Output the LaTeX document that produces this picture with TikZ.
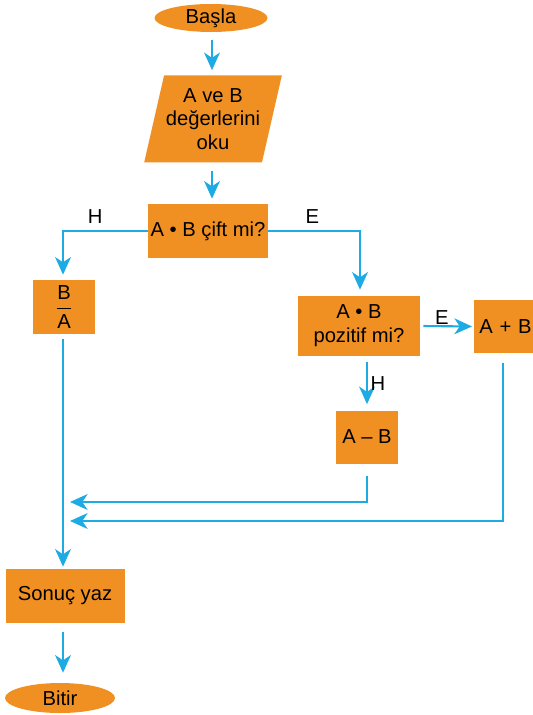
\documentclass[tikz,border=0pt]{standalone}
\usepackage{amsmath}
\usepackage{fontspec}
\setmainfont{Liberation Sans}
\usetikzlibrary{arrows.meta,calc,positioning,shapes.geometric}
\definecolor{akisturuncu}{RGB}{240,144,34}
\definecolor{akismavi}{RGB}{30,170,226}

\begin{document}
\begin{tikzpicture}[>={Stealth[length=10pt,width=9pt,inset=3pt]},
  font=\fontsize{11.5}{13.5}\selectfont,
  kutu/.style={rectangle,fill=akisturuncu,inner sep=1pt,align=center},
  uc/.style={ellipse,fill=akisturuncu,inner sep=0pt},
  ok/.style={->,color=akismavi,line width=1.2pt},
  etiket/.style={text=black,inner sep=1.5pt}]
  \useasboundingbox (0,0) rectangle (10.66,-14.3);
  \node[uc,minimum width=2.26cm,minimum height=0.56cm] (basla) at (4.22,-0.36) {Başla};
  \node[trapezium,trapezium left angle=73,trapezium right angle=107,trapezium stretches=true,
        fill=akisturuncu,minimum width=2.74cm,minimum height=1.74cm,inner sep=1pt,align=center]
        (oku) at (4.26,-2.38) {A ve B\\değerlerini\\oku};
  \node[kutu,minimum width=2.4cm,minimum height=1.08cm] (cift) at (4.16,-4.62) {A • B çift mi?};
  \node[kutu,minimum width=1.24cm,minimum height=1.08cm] (ba) at (1.28,-6.14) {$\dfrac{\text{B}}{\text{A}}$};
  \node[kutu,minimum width=2.44cm,minimum height=1.2cm] (poz) at (7.18,-6.52) {A • B\\pozitif mi?};
  \node[kutu,anchor=west,text width=1.3cm,minimum height=1.06cm,inner xsep=0.1cm,align=left]
        (apb) at (9.48,-6.53) {A + B};
  \node[kutu,minimum width=1.24cm,minimum height=1.06cm] (amb) at (7.34,-8.74) {A – B};
  \node[kutu,minimum width=2.38cm,minimum height=1.08cm] (sonuc) at (1.30,-11.92) {Sonuç yaz};
  \node[uc,minimum width=2.2cm,minimum height=0.6cm] (bitir) at (1.2,-13.96) {Bitir};
  \coordinate (hat) at (1.26,0);
  \coordinate (g1) at (1.40,-10.04);
  \coordinate (g2) at (1.40,-10.42);
  \coordinate (apbalt) at (10.06,-7.24);
  % ana akis
  \draw[ok,shorten <=0.16cm,shorten >=0.1cm] (basla.south -| 4.24,0) -- (oku.north -| 4.24,0);
  \draw[ok,shorten <=0.16cm,shorten >=0.1cm] (oku.south -| 4.24,0) -- (cift.north -| 4.24,0);
  \draw[ok,shorten >=0.1cm] (cift.west) -| node[etiket,pos=0.31,above=2pt]{H} (ba.north -| hat);
  \draw[ok,shorten >=0.12cm] (cift.east) -| node[etiket,pos=0.24,above=2pt]{E} (poz.north -| 7.2,0);
  \draw[ok,shorten <=0.06cm,shorten >=0.04cm] (poz.east) -- node[etiket,above=-1pt,pos=0.4]{E} (apb.west);
  \draw[ok,shorten <=0.12cm,shorten >=0.12cm] (poz.south -| amb.north) -- node[etiket,right]{H} (amb.north);
  % birlesme
  \draw[ok,shorten <=0.24cm] (amb.south) |- (g1);
  \draw[ok,shorten <=0.2cm] (apb.south -| apbalt) |- (g2);
  \draw[ok,shorten <=0.1cm,shorten >=0.04cm] (ba.south -| hat) -- (sonuc.north -| hat);
  \draw[ok,shorten <=0.18cm,shorten >=0.2cm] (sonuc.south -| hat) -- (bitir.north -| hat);
\end{tikzpicture}
\end{document}
